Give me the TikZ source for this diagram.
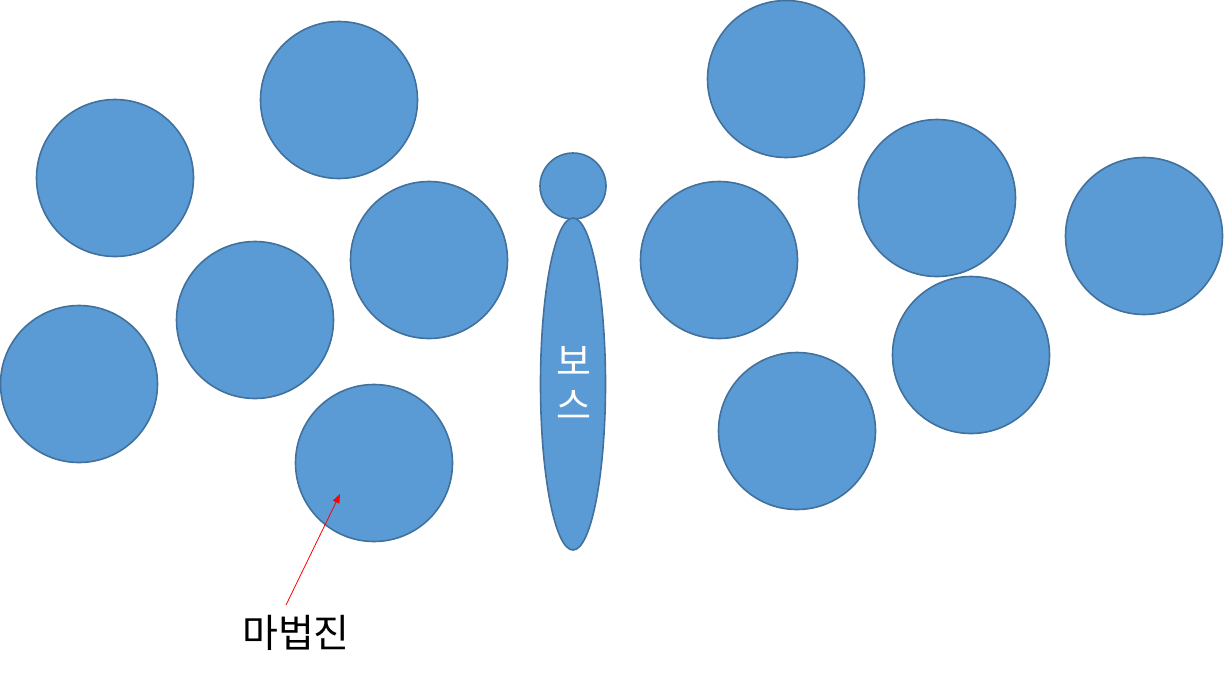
\documentclass[tikz,border=0pt]{standalone}
\usepackage{fontspec}
\newfontfamily\cjk{Noto Sans CJK KR}
\usetikzlibrary{arrows.meta}
\definecolor{cfill}{HTML}{5B9BD5}
\definecolor{cline}{HTML}{41719C}
\begin{document}
\begin{tikzpicture}[x=1pt,y=-1pt,
  blob/.style={circle,draw=cline,fill=cfill,line width=1.6pt,minimum size=157pt,inner sep=0pt},
  head/.style={circle,draw=cline,fill=cfill,line width=1.6pt,minimum size=66pt,inner sep=0pt},
  body/.style={draw=cline,fill=cfill,line width=1.6pt},
  pointer/.style={draw=red,line width=0.8pt,-{Triangle[length=9pt,width=7pt]}}]
\useasboundingbox (0,0) rectangle (1224,681);
\node[blob] (c1) at (115,178) {};
\node[blob] (c2) at (339,100) {};
\node[blob] (c3) at (429,260) {};
\node[blob] (c4) at (255,320) {};
\node[blob] (c5) at (79,384) {};
\node[blob] (c6) at (374,463) {};
\node[blob] (c9) at (786,79) {};
\node[blob] (c10) at (719,260) {};
\node[blob] (c11) at (937,198) {};
\node[blob] (c12) at (1144,236) {};
\node[blob] (c13) at (971,355) {};
\node[blob] (c14) at (797,431) {};
\node[head] (bh) at (573,186) {};
\draw[body] (573,384) ellipse [x radius=32.5, y radius=166];
\node[text=white,font=\cjk\fontsize{38}{44}\selectfont,align=center,inner sep=0pt] (boss) at (574,383) {보\\스};
\node[font=\cjk\fontsize{39}{40}\selectfont,inner sep=0pt] (lbl) at (296,633) {마법진};
\coordinate (tip) at (340,494);
\coordinate (tail) at (286,605);
\draw[pointer] (tail) -- (tip);
\end{tikzpicture}
\end{document}
